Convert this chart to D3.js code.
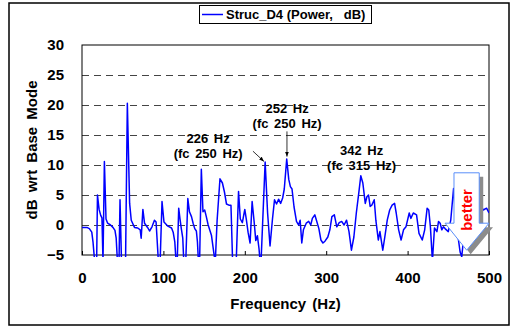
<!DOCTYPE html>
<html>
<head>
<meta charset="utf-8">
<script src="https://cdn.jsdelivr.net/npm/d3@7"></script>
<style>
  body { margin: 0; background: #fff; }
  text { font-family: "Liberation Sans", Arial, sans-serif; font-weight: bold; }
</style>
</head>
<body>
<svg id="chart"></svg>
<script>
// data
var freqHz = [0, 6, 9, 12, 13.5, 15.5, 18, 19, 21, 23, 24.5, 25.8, 27.5, 29.5, 31.5, 35, 38, 40.5, 42, 43.5,
  45.5, 46.7, 48.5, 53.5, 55.7, 58.5, 60.5, 64.5, 68.5, 71.5, 72.7, 74.8, 76.8, 81, 83, 86, 89, 91, 93.8, 96,
  98.3, 100.7, 105.5, 110, 112, 114, 115.5, 117, 118.8, 120.3, 122, 123.8, 125, 127.5, 130, 132, 134.5, 136.5, 138.5, 140.5,
  141.8, 143, 144.5, 146.6, 148.6, 150.7, 152.7, 155, 159, 162.5, 163.8, 166, 169.5, 172.5, 175, 177.5, 180.5, 183, 185, 189.5,
  192.3, 194.5, 197, 200, 202, 204, 206.5, 209, 211.5, 213.5, 215.5, 217.5, 218.7, 220, 225, 228, 231, 234, 236.5, 239,
  241.5, 244, 246.5, 248.5, 251.5, 254, 256, 258, 260.5, 263.5, 266, 268, 270, 272, 275.5, 278.5, 281, 283, 286, 288,
  291, 293.5, 296, 298.5, 302, 304.5, 307, 310, 313, 316, 319, 322, 325, 328, 331, 334, 337, 340, 342.5, 345,
  348, 350, 352, 354, 356, 359, 361, 364, 366, 369.5, 372, 375, 378, 381, 384, 386, 389, 392, 395, 398,
  402, 404, 407, 411, 414, 418, 421, 424, 426, 428, 430.5, 433, 436, 438, 440, 442, 444, 446, 450, 453,
  456.5, 459, 462, 464.5, 466.5, 469, 473, 478, 483, 487, 490, 493, 497, 500];
var powerDb = [-0.4, -0.4, -0.6, -1.2, -2.8, -6, -6, 5, 2.6, 1.6, 1.2, -6, 10.6, 1, 0.3, 0, -0.4, -0.9, -2.2, -6,
  -6, 4.2, -6, -6, 20.3, 3.6, 0.8, -0.4, -0.5, -0.8, -2.2, 2.6, 0.3, -0.5, -1, -0.3, 0.8, 0.5, -6, -6,
  3.9, 0.5, -0.2, -0.5, -1.2, -2.8, -6, -6, 2.8, 1.1, -0.6, -2.2, -6, -6, 4.4, 2.2, 1.4, 0.3, -0.6, -1,
  -2.8, -6, -6, 9.3, 2.2, 2.5, 1.4, 0, -1.7, -5.2, -6, 0.8, 7.7, 7, 5.5, 3.5, 3.3, 3.3, -6, -6,
  5.6, 1, 0.4, 2.6, 0.8, -1.2, -3, 3.9, 0.5, -2.6, -1.8, -4, -6, -6, 10.5, 2, -3.5, 1, 4.2, 3.5,
  4.3, 3.6, 4.5, 6, 11, 7.6, 6.4, 6, 3, 0.6, 0, 0.8, -3, -0.8, 0.3, 0.6, 0, 1.1, 1.7, 0.8,
  -0.6, -2.5, -3, -2.7, -2, -0.8, 1.4, 1.7, -0.3, 0.4, 0.6, 0, 0.8, -1.1, -4.2, -2, 2, 5.3, 8.2, 7,
  3.6, 4.7, 5, 3.1, 3.3, 4.2, 0.8, -2.5, -1.1, -4.2, -2, 0.8, 2.5, 3.3, 3.6, 2, -0.8, -2.5, -0.8, -0.3,
  2, 1.1, 2, 1.7, -1.4, -2.5, -0.8, 2.8, 2.5, -0.3, -6, -0.5, -1.1, 0.6, 0.3, -0.8, -0.3, -0.6, -1.1, 0.8,
  6.1, 1.5, -2, -4.5, -5.3, -2, 1, 3, 4.5, 3, 3.1, 2.5, 2.8, 2];

var yTicks = [-5, 0, 5, 10, 15, 20, 25, 30];
var xTicks = [0, 100, 200, 300, 400, 500];
var seriesName = "Struc_D4 (Power,\u00a0\u00a0\u00a0dB)";

var width = 513;
var height = 326;

var svg = d3.select('#chart')
    .attr('width', width)
    .attr('height', height);

var xScale = d3.scaleLinear().domain([0, 500]).range([82, 489]);
var yScale = d3.scaleLinear().domain([-5, 30]).range([255, 45]);

// outer frame
svg.append('rect')
    .attr('x', 9).attr('y', 3)
    .attr('width', 500).attr('height', 322)
    .attr('fill', 'none')
    .attr('stroke', '#000')
    .attr('stroke-width', 1.5);

// legend
svg.append('rect')
    .attr('x', 199.5).attr('y', 5.5)
    .attr('width', 172).attr('height', 18)
    .attr('fill', '#fff')
    .attr('stroke', '#000');
svg.append('line')
    .attr('x1', 202).attr('x2', 223)
    .attr('y1', 14.5).attr('y2', 14.5)
    .attr('stroke', '#0000ff')
    .attr('stroke-width', 1.5);
svg.append('text')
    .attr('x', 226).attr('y', 19)
    .style('font-size', '13px')
    .text(seriesName);

// gridlines
svg.append('g')
    .selectAll('line')
    .data(yTicks.filter(d => d > -5 && d < 30))
    .enter()
    .append('line')
        .attr('x1', xScale(0)).attr('x2', xScale(500))
        .attr('y1', d => yScale(d) + 0.5).attr('y2', d => yScale(d) + 0.5)
        .attr('stroke', '#444')
        .attr('stroke-dasharray', '7,5');

// axes
var yAxis = d3.axisLeft(yScale)
    .tickValues(yTicks)
    .tickSize(0)
    .tickPadding(18);
var gy = svg.append('g')
    .attr('transform', 'translate(' + xScale(0) + ',0)')
    .call(yAxis);
gy.select('.domain').remove();
gy.selectAll('text').style('font-size', '15px').attr('fill', '#000');

var xAxis = d3.axisBottom(xScale)
    .tickValues(xTicks)
    .tickSize(-4)
    .tickPadding(17);
var gx = svg.append('g')
    .attr('transform', 'translate(0,' + yScale(-5) + ')')
    .call(xAxis);
gx.select('.domain').remove();
gx.selectAll('line').attr('stroke', '#000');
gx.selectAll('text').style('font-size', '15px').attr('fill', '#000');

// plot frame
svg.append('rect')
    .attr('x', xScale(0)).attr('y', yScale(30))
    .attr('width', xScale(500) - xScale(0))
    .attr('height', yScale(-5) - yScale(30))
    .attr('fill', 'none')
    .attr('stroke', '#000');

// axis titles
svg.append('text')
    .attr('x', (xScale(0) + xScale(500)) / 2)
    .attr('y', 309)
    .style('text-anchor', 'middle')
    .style('font-size', '15px')
    .style('word-spacing', '2px')
    .text('Frequency (Hz)');

svg.append('text')
    .attr('transform', 'translate(37,' + (yScale(12.5)) + ') rotate(-90)')
    .style('text-anchor', 'middle')
    .style('font-size', '15px')
    .style('word-spacing', '3px')
    .text('dB wrt Base Mode');

// series line
svg.append('clipPath')
    .attr('id', 'plotClip')
    .append('rect')
        .attr('x', xScale(0)).attr('y', yScale(30))
        .attr('width', xScale(500) - xScale(0))
        .attr('height', yScale(-5) - yScale(30) + 2);

var line = d3.line()
    .x((d, i) => xScale(freqHz[i]))
    .y(d => yScale(d));

svg.append('path')
    .datum(powerDb)
    .attr('clip-path', 'url(#plotClip)')
    .attr('d', line)
    .attr('fill', 'none')
    .attr('stroke', '#0000ff')
    .attr('stroke-width', 1.5)
    .attr('stroke-linejoin', 'round');

// annotations
var defs = svg.append('defs');
defs.append('marker')
    .attr('id', 'head')
    .attr('viewBox', '0 0 10 10')
    .attr('refX', 10).attr('refY', 5)
    .attr('markerWidth', 6).attr('markerHeight', 6)
    .attr('orient', 'auto')
    .append('path')
        .attr('d', 'M0,1 L10,5 L0,9 Z')
        .attr('fill', '#000');

function note(f, db, txt) {
    svg.append('text')
        .attr('x', xScale(f)).attr('y', yScale(db))
        .style('text-anchor', 'middle')
        .style('font-size', '13px')
        .style('word-spacing', '2px')
        .text(txt);
}
note(155, 13.7, '226 Hz');
note(155, 11.25, '(fc 250 Hz)');
note(252, 18.7, '252 Hz');
note(252, 16.25, '(fc 250 Hz)');
note(343.5, 11.7, '342 Hz');
note(343.5, 9.2, '(fc 315 Hz)');

svg.append('line')
    .attr('x1', xScale(210)).attr('y1', yScale(12.3))
    .attr('x2', xScale(223.5)).attr('y2', yScale(10.6))
    .attr('stroke', '#000').attr('stroke-width', 0.8)
    .attr('marker-end', 'url(#head)');
svg.append('line')
    .attr('x1', xScale(251.8)).attr('y1', yScale(15.6))
    .attr('x2', xScale(251.8)).attr('y2', yScale(11.4))
    .attr('stroke', '#000').attr('stroke-width', 0.8)
    .attr('marker-end', 'url(#head)');

// "better" block arrow
var arrowPts = [[457, 8.7], [488, 8.7], [488, 0.3], [500, 0.3], [472.6, -4.2], [446, 0.3], [457, 0.3]];
var arrowPath = d3.line().x(d => xScale(d[0])).y(d => yScale(d[1]))(arrowPts) + 'Z';
svg.append('path')
    .attr('d', arrowPath)
    .attr('transform', 'translate(4,4)')
    .attr('fill', '#8c8c8c');
svg.append('path')
    .attr('d', arrowPath)
    .attr('fill', '#fff')
    .attr('stroke', '#5b8ff9')
    .attr('stroke-width', 1);
svg.append('text')
    .attr('transform', 'translate(' + (xScale(472.6) + 5.5) + ',' + yScale(2.5) + ') rotate(-90)')
    .style('text-anchor', 'middle')
    .style('font-size', '15px')
    .attr('fill', '#ff0000')
    .text('better');
</script>
</body>
</html>
